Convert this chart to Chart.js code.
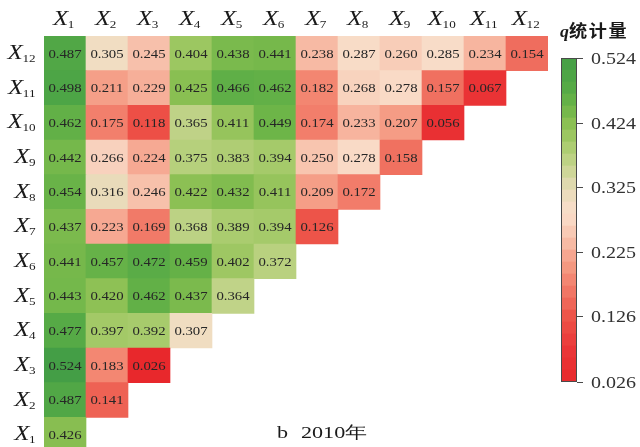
<!DOCTYPE html>
<html>
<head>
<meta charset="utf-8">
<script src="https://cdn.jsdelivr.net/npm/chart.js@4.4.1/dist/chart.umd.min.js"></script>
<style>
  html, body { margin: 0; padding: 0; width: 640px; height: 447px; overflow: hidden; background: #ffffff; }
  #wrap { position: relative; width: 640px; height: 447px; overflow: hidden; }
  #main { position: absolute; left: 0; top: 0; }
  #scalebar { position: absolute; left: 540px; top: 0; }
</style>
</head>
<body>
<div id="wrap">
  <canvas id="main" width="640" height="452"></canvas>
  <canvas id="scalebar" width="100" height="447"></canvas>
</div>
<script>
// Factors (columns left to right, rows bottom to top)
const factors = ['X1', 'X2', 'X3', 'X4', 'X5', 'X6', 'X7', 'X8', 'X9', 'X10', 'X11', 'X12'];

// Interaction q statistics, one row per factor (columns X1 .. Xi)
const rowX1  = [0.426];
const rowX2  = [0.487, 0.141];
const rowX3  = [0.524, 0.183, 0.026];
const rowX4  = [0.477, 0.397, 0.392, 0.307];
const rowX5  = [0.443, 0.420, 0.462, 0.437, 0.364];
const rowX6  = [0.441, 0.457, 0.472, 0.459, 0.402, 0.372];
const rowX7  = [0.437, 0.223, 0.169, 0.368, 0.389, 0.394, 0.126];
const rowX8  = [0.454, 0.316, 0.246, 0.422, 0.432, 0.411, 0.209, 0.172];
const rowX9  = [0.442, 0.266, 0.224, 0.375, 0.383, 0.394, 0.250, 0.278, 0.158];
const rowX10 = [0.462, 0.175, 0.118, 0.365, 0.411, 0.449, 0.174, 0.233, 0.207, 0.056];
const rowX11 = [0.498, 0.211, 0.229, 0.425, 0.466, 0.462, 0.182, 0.268, 0.278, 0.157, 0.067];
const rowX12 = [0.487, 0.305, 0.245, 0.404, 0.438, 0.441, 0.238, 0.287, 0.260, 0.285, 0.234, 0.154];
const rows = [rowX1, rowX2, rowX3, rowX4, rowX5, rowX6, rowX7, rowX8, rowX9, rowX10, rowX11, rowX12];

// Colour scale ticks
const scaleTicks = [0.026, 0.126, 0.225, 0.325, 0.424, 0.524];
const scaleTitleQ = 'q';
const scaleTitleText = '统计量';
const captionLetter = 'b';
const captionYear = '2010年';

const SERIF = "'Liberation Serif','Times New Roman',serif";
const CJK = "'Noto Sans CJK SC','Noto Sans CJK JP',sans-serif";
const TEXT_STRETCH = 1.25;

// Red -> peach -> beige -> green ramp
const rampStops = [
  [0.026, '#e8282c'], [0.070, '#ea3436'], [0.100, '#ec4440'], [0.126, '#ed5449'],
  [0.150, '#ef6a5b'], [0.175, '#f27f6c'], [0.200, '#f4977f'], [0.225, '#f6aa94'],
  [0.240, '#f7bca6'], [0.260, '#f8cdb8'], [0.280, '#f9dbc8'], [0.300, '#f5dec6'],
  [0.325, '#e2dab4'], [0.350, '#cdd697'], [0.375, '#b6d07c'], [0.400, '#a0c864'],
  [0.424, '#8abf52'], [0.450, '#6cb548'], [0.480, '#54a946'], [0.524, '#449e46']
];
function hexRgb(h) { return [1, 3, 5].map(i => parseInt(h.slice(i, i + 2), 16)); }
function qColor(v) {
  if (v <= rampStops[0][0]) return rampStops[0][1];
  for (let i = 1; i < rampStops.length; i++) {
    const [v1, c1] = rampStops[i];
    if (v <= v1) {
      const [v0, c0] = rampStops[i - 1];
      const t = (v - v0) / (v1 - v0);
      const a = hexRgb(c0), b = hexRgb(c1);
      const m = a.map((x, k) => Math.round(x + (b[k] - x) * t));
      return `rgb(${m[0]},${m[1]},${m[2]})`;
    }
  }
  return rampStops[rampStops.length - 1][1];
}

function drawStretched(ctx, text, x, y, font, color, align, sx) {
  ctx.save();
  ctx.font = font;
  ctx.fillStyle = color;
  ctx.textBaseline = 'alphabetic';
  ctx.textAlign = align;
  ctx.translate(x, y);
  ctx.scale(sx, 1);
  ctx.fillText(text, 0, 0);
  ctx.restore();
}

// Italic X with a subscript index
function drawFactor(ctx, name, x, y, align) {
  const main = name.charAt(0), sub = name.slice(1);
  const fMain = `italic 20px ${SERIF}`, fSub = `10.5px ${SERIF}`;
  ctx.save();
  ctx.font = fMain; const wm = ctx.measureText(main).width * TEXT_STRETCH;
  ctx.font = fSub; const ws = ctx.measureText(sub).width * TEXT_STRETCH;
  ctx.restore();
  const total = wm + ws;
  const left = align === 'right' ? x - total : x - total / 2;
  drawStretched(ctx, main, left, y, fMain, '#1a1a1a', 'left', TEXT_STRETCH);
  drawStretched(ctx, sub, left + wm - 0.5, y + 3, fSub, '#1a1a1a', 'left', TEXT_STRETCH);
}

// One dataset per row: floating bars spanning [i - 0.5, i + 0.5] on the row axis
const datasets = rows.map((vals, r) => ({
  label: factors[r],
  data: factors.map((f, c) => (c < vals.length ? [r + 0.5, r + 1.5] : null)),
  qValues: factors.map((f, c) => (c < vals.length ? vals[c] : null)),
  backgroundColor: factors.map((f, c) => (c < vals.length ? qColor(vals[c]) : 'rgba(0,0,0,0)')),
  borderWidth: 0,
  borderSkipped: false,
  grouped: false,
  barPercentage: 1,
  categoryPercentage: 1
}));

const cellLabels = {
  id: 'cellLabels',
  afterDatasetsDraw(chart) {
    const ctx = chart.ctx;
    chart.data.datasets.forEach((ds, di) => {
      const meta = chart.getDatasetMeta(di);
      meta.data.forEach((el, i) => {
        const v = ds.qValues[i];
        if (v === null) return;
        const cy = (el.y + el.base) / 2;
        drawStretched(ctx, v.toFixed(3), el.x, cy + 4.2, `12.3px ${SERIF}`, '#262626', 'center', 1.2);
      });
    });
  },
  afterDraw(chart) {
    const ctx = chart.ctx;
    const xs = chart.scales.x, ys = chart.scales.y;
    factors.forEach((f, c) => {
      drawFactor(ctx, f, xs.getPixelForValue(c) - 1, 25, 'center');
    });
    factors.forEach((f, r) => {
      drawFactor(ctx, f, 36, ys.getPixelForValue(r + 1) + 5.5, 'right');
    });
    drawStretched(ctx, captionLetter, 277, 438, `17px ${SERIF}`, '#1a1a1a', 'left', 1.3);
    drawStretched(ctx, captionYear, 301, 438, `17px ${SERIF}`, '#1a1a1a', 'left', 1.3);
  }
};

new Chart(document.getElementById('main'), {
  type: 'bar',
  data: { labels: factors, datasets },
  options: {
    responsive: false,
    animation: false,
    devicePixelRatio: 1,
    layout: { padding: { left: 0, top: 0, right: 92, bottom: 0 } },
    plugins: { legend: { display: false }, tooltip: { enabled: false }, title: { display: false } },
    scales: {
      x: {
        type: 'category',
        position: 'top',
        grid: { display: false },
        border: { display: false },
        ticks: { display: false },
        afterFit(s) { s.height = 36; }
      },
      y: {
        type: 'linear',
        min: 0.5,
        max: 12.5,
        grid: { display: false },
        border: { display: false },
        ticks: { display: false },
        afterFit(s) { s.width = 44; }
      }
    }
  },
  plugins: [cellLabels]
});

// Colour scale bar: stepped bands along the q axis
const bandCount = 27;
const lo = scaleTicks[0], hi = scaleTicks[scaleTicks.length - 1];
const bandDatasets = [];
for (let k = 0; k < bandCount; k++) {
  const a = lo + (hi - lo) * k / bandCount;
  const b = lo + (hi - lo) * (k + 1) / bandCount;
  bandDatasets.push({
    data: [[a, b]],
    backgroundColor: qColor((a + b) / 2),
    borderWidth: 0,
    borderSkipped: false,
    grouped: false,
    barPercentage: 1,
    categoryPercentage: 1
  });
}

const scaleDecor = {
  id: 'scaleDecor',
  afterDraw(chart) {
    const ctx = chart.ctx, a = chart.chartArea, ys = chart.scales.y;
    ctx.save();
    ctx.strokeStyle = '#4a4a4a';
    ctx.lineWidth = 1;
    ctx.strokeRect(Math.round(a.left) + 0.5, Math.round(a.top) + 0.5,
      Math.round(a.right - a.left) - 1, Math.round(a.bottom - a.top) - 1);
    ctx.restore();
    ys.ticks.forEach(t => {
      drawStretched(ctx, t.value.toFixed(3), 51, ys.getPixelForValue(t.value) + 5.5,
        `16px ${SERIF}`, '#333333', 'left', TEXT_STRETCH);
    });
    drawStretched(ctx, scaleTitleQ, 20, 37, `bold italic 17px ${SERIF}`, '#1a1a1a', 'left', 1.05);
    ctx.save();
    ctx.letterSpacing = '1.5px';
    drawStretched(ctx, scaleTitleText, 29, 37, `bold 16.5px ${CJK}`, '#1a1a1a', 'left', 1.1);
    ctx.restore();
  }
};

new Chart(document.getElementById('scalebar'), {
  type: 'bar',
  data: { labels: ['q'], datasets: bandDatasets },
  options: {
    responsive: false,
    animation: false,
    devicePixelRatio: 1,
    layout: { padding: { left: 21, top: 58, right: 0, bottom: 65 } },
    plugins: { legend: { display: false }, tooltip: { enabled: false } },
    scales: {
      x: { display: false },
      y: {
        type: 'linear',
        position: 'right',
        min: lo,
        max: hi,
        afterBuildTicks(s) { s.ticks = scaleTicks.map(v => ({ value: v })); },
        ticks: { display: false },
        grid: { display: true, drawOnChartArea: false, drawTicks: true, tickLength: 6, color: '#4a4a4a', lineWidth: 1 },
        border: { display: false },
        afterFit(s) { s.width = 63; }
      }
    }
  },
  plugins: [scaleDecor]
});
</script>
</body>
</html>
